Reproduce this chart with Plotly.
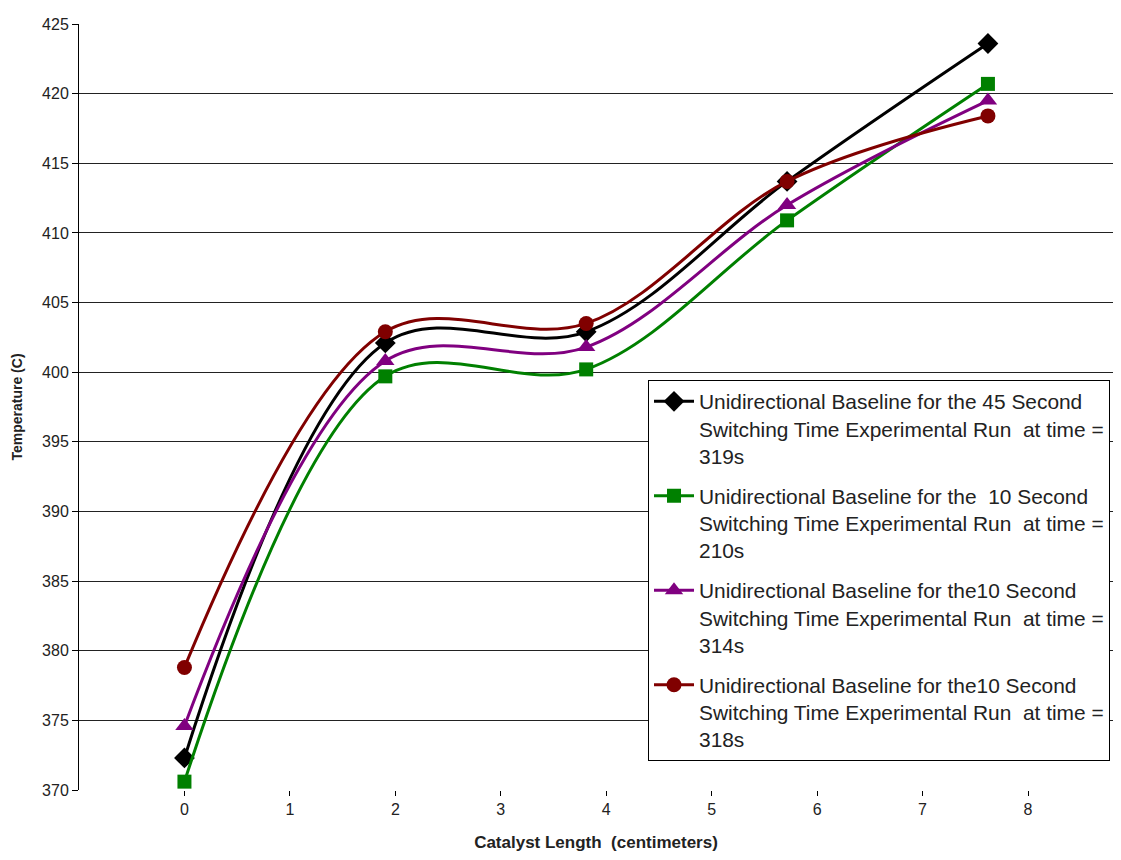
import plotly.graph_objects as go

x_cm = [0, 1.905, 3.81, 5.715, 7.62]
y_45s_319 = [372.3, 402.1, 402.9, 413.7, 423.6]
y_10s_210 = [370.6, 399.7, 400.2, 410.9, 420.7]
y_10s_314 = [374.6, 400.8, 401.8, 412.0, 419.5]
y_10s_318 = [378.8, 402.9, 403.5, 413.7, 418.4]

names = [
    "Unidirectional Baseline for the 45 Second<br>Switching Time Experimental Run  at time =<br>319s",
    "Unidirectional Baseline for the  10 Second<br>Switching Time Experimental Run  at time =<br>210s",
    "Unidirectional Baseline for the10 Second<br>Switching Time Experimental Run  at time =<br>314s",
    "Unidirectional Baseline for the10 Second<br>Switching Time Experimental Run  at time =<br>318s",
]
series = [y_45s_319, y_10s_210, y_10s_314, y_10s_318]
colors = ["#000000", "#008000", "#800080", "#800000"]
symbols = ["diamond", "square", "triangle-up", "circle"]
sizes = [16, 14, 16, 15]

fig = go.Figure()
for i, (nm, ys, c, s, sz) in enumerate(zip(names, series, colors, symbols, sizes)):
    fig.add_trace(go.Scatter(
        x=x_cm, y=ys, name=nm, mode="lines+markers",
        line=dict(color=c, width=3, shape="spline", smoothing=1.0),
        marker=dict(color=c, symbol=s, size=sz),
        legendgroup=f"g{i}",
    ))

fig.update_layout(
    width=1105, height=844,
    margin=dict(l=71, r=0, t=16, b=62),
    paper_bgcolor="white", plot_bgcolor="white",
    font=dict(family="Liberation Sans, Arial, sans-serif", color="#222"),
    showlegend=True,
    legend=dict(
        x=0.5503, y=0.535, xanchor="left", yanchor="top", valign="top",
        bgcolor="white", bordercolor="#000", borderwidth=1,
        font=dict(size=20.9, color="#222"),
        tracegroupgap=10, itemwidth=40,
    ),
    xaxis=dict(
        range=[-1, 8.806], tickmode="array", tickvals=list(range(9)),
        showgrid=False, zeroline=False, showline=False, automargin=False,
        ticks="outside", ticklen=5, tickcolor="#000",
        tickfont=dict(size=16, color="#222"),
        title=dict(text="<b>Catalyst Length  (centimeters)</b>", standoff=34,
                   font=dict(size=17, color="#222")),
    ),
    yaxis=dict(
        range=[370, 425], tickmode="array", tickvals=list(range(370, 426, 5)),
        showgrid=True, gridcolor="#222", gridwidth=1, zeroline=False,
        showline=True, linecolor="#000", linewidth=1, automargin=False,
        ticks="outside", ticklen=6, tickcolor="#000",
        tickfont=dict(size=16, color="#222"),
        title=dict(text="<b>Temperature (C)</b>", standoff=16,
                   font=dict(size=14, color="#222")),
    ),
)

fig.write_html("out.html")
